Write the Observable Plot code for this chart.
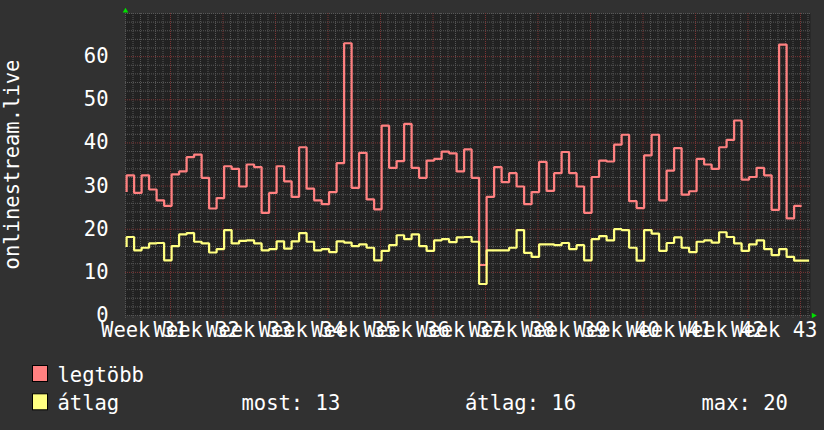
<!DOCTYPE html>
<html><head><meta charset="utf-8">
<script src="https://cdn.jsdelivr.net/npm/d3@7"></script>
<script src="https://cdn.jsdelivr.net/npm/@observablehq/plot@0.6"></script>
<style>
html,body{margin:0;padding:0;background:#313131;}
#wrap{position:relative;width:824px;height:430px;overflow:hidden;background:#313131;}
#wrap svg{display:block;}
</style></head><body><div id="wrap"></div>
<script>
const seriesNames = ["legtöbb", "átlag"];
const seriesColors = ["#ff8080", "#ffff80"];
// daily values; first entry is the value just before the plotted window
const legtobb = [28.6,
  32.5, 28.4, 32.5, 29.2, 26.7, 25.4, 32.7, 33.4, 36.7, 37.3,
  31.9, 24.8, 27.2, 34.6, 34.0, 29.9, 35.0, 34.4, 23.8, 28.4,
  34.6, 31.1, 27.5, 39.0, 29.4, 26.7, 25.8, 28.6, 35.3, 63.1,
  29.6, 37.7, 26.9, 24.6, 44.0, 34.2, 35.8, 44.4, 34.2, 31.9,
  35.9, 36.3, 38.0, 37.6, 33.4, 38.5, 31.9, 11.7, 27.5, 34.4,
  30.9, 33.0, 29.9, 25.8, 28.6, 35.6, 28.9, 33.0, 37.9, 33.0,
  29.9, 23.8, 32.1, 35.9, 35.7, 39.6, 41.9, 26.5, 24.9, 37.1,
  41.9, 26.7, 33.6, 38.8, 28.0, 28.8, 36.3, 35.0, 34.0, 39.0,
  40.7, 45.2, 31.5, 32.1, 34.2, 32.5, 24.5, 62.8, 22.5, 25.4];
const atlag = [15.9,
  18.2, 15.1, 15.7, 16.7, 16.8, 12.8, 16.1, 18.8, 19.1, 17.1,
  16.7, 14.6, 15.4, 19.8, 16.7, 17.3, 17.4, 16.7, 15.1, 15.4,
  17.2, 15.5, 17.2, 19.1, 17.1, 15.1, 15.4, 14.7, 17.2, 16.9,
  16.1, 16.5, 15.7, 12.8, 15.0, 16.3, 18.6, 17.7, 18.8, 16.1,
  15.0, 17.4, 17.7, 17.0, 18.1, 18.2, 17.1, 7.3, 15.1, 15.1,
  15.1, 15.7, 19.8, 14.5, 13.6, 16.5, 16.5, 16.3, 16.8, 15.4,
  16.3, 12.8, 17.7, 18.4, 17.4, 20.0, 19.8, 15.7, 12.7, 19.8,
  19.0, 15.0, 16.8, 18.1, 15.7, 14.7, 17.1, 17.4, 16.9, 19.3,
  18.2, 16.7, 15.0, 16.5, 17.4, 15.4, 14.0, 15.4, 13.6, 12.7, 12.7];
const weekLabels = ["Week 31","Week 32","Week 33","Week 34","Week 35","Week 36","Week 37",
  "Week 38","Week 39","Week 40","Week 41","Week 42","Week 43"];
const yTicks = [0, 10, 20, 30, 40, 50, 60];
const yAxisLabel = "onlinestream.live";
const statLabels = ["most: ", "átlag: ", "max: "];

const FONT = "DejaVu Sans Mono";
const FS = 20.5;
const DAY_OFFSET = 0.15;
const toRows = vals => vals.map((v, i) => ({x: i + DAY_OFFSET, v}));
const rowsRed = toRows(legtobb);
const rowsYel = toRows(atlag);
const weekTicks = d3.range(6, 91, 7);
const labelPos = weekTicks.map(t => t - 3.5);
const minorDays = d3.range(0, 92).filter(d => !weekTicks.includes(d));
const yMinor = d3.range(0, 71, 2).filter(d => d % 10 !== 0 || d === 0 || d === 70);
const yMajor = d3.range(10, 61, 10);
const gridGray = "#585858", gridRed = "#7c3636", green = "#00e000";

const chart = Plot.plot({
  width: 824, height: 345,
  marginLeft: 125, marginRight: 14, marginTop: 13, marginBottom: 30,
  x: {domain: [0, 685 / 7.5]},
  y: {domain: [0, 70]},
  style: {background: "transparent", color: "#ffffff", fontFamily: FONT, overflow: "visible"},
  marks: [
    Plot.frame({fill: "#222222", stroke: "none"}),
    Plot.ruleX(minorDays, {y1: -0.7, y2: 70, stroke: gridGray, strokeDasharray: "1,1"}),
    Plot.ruleY(yMinor, {stroke: gridGray, strokeDasharray: "1,1"}),
    Plot.ruleY(yMajor, {stroke: gridRed, strokeDasharray: "1,1"}),
    Plot.ruleX(weekTicks, {y1: -0.7, y2: 70, stroke: gridRed, strokeDasharray: "1,1"}),
    Plot.line(rowsRed, {x: "x", y: "v", curve: "step-before", stroke: seriesColors[0], strokeWidth: 2.2, strokeLinejoin: "miter", strokeLinecap: "butt"}),
    Plot.line(rowsYel, {x: "x", y: "v", curve: "step-before", stroke: seriesColors[1], strokeWidth: 2.2, strokeLinejoin: "miter", strokeLinecap: "butt"}),
    Plot.dot([0], {x: 0, y: 70.6, symbol: "triangle", r: 2.1, fill: green, stroke: "none"}),
    Plot.dot([0], {x: 91.73, y: 0, symbol: "triangle", r: 2.1, fill: green, stroke: "none", rotate: 90}),
    Plot.axisY({ticks: yTicks, tickSize: 0, tickPadding: 17, fontSize: FS, label: yAxisLabel, labelArrow: "none", labelAnchor: "center", labelOffset: 121}),
    Plot.axisX({ticks: labelPos, tickFormat: d => weekLabels[labelPos.indexOf(d)], tickSize: 0, tickPadding: 7, fontSize: FS, label: null})
  ]
});
const wrap = document.getElementById("wrap");
wrap.appendChild(chart);

// legend
const vals = atlag.slice(1);
const stats = [Math.round(vals[vals.length - 1]), Math.round(d3.mean(vals)), Math.round(d3.max(vals))];
const leg = d3.create("svg").attr("width", 824).attr("height", 85)
  .style("position", "absolute").style("left", "0px").style("top", "345px");
const rowsY = [36.5, 64.8];
seriesNames.forEach((name, i) => {
  leg.append("rect").attr("x", 32.5).attr("y", rowsY[i] - 16).attr("width", 15).attr("height", 16)
    .attr("fill", seriesColors[i]).attr("stroke", "#000").attr("stroke-width", 1);
  leg.append("text").attr("x", 57.5).attr("y", rowsY[i]).attr("fill", "#fff")
    .attr("font-family", FONT).attr("font-size", FS).text(name);
});
const statX = [241.5, 465, 701.5];
statLabels.forEach((s, i) => {
  leg.append("text").attr("x", statX[i]).attr("y", rowsY[1]).attr("fill", "#fff")
    .attr("font-family", FONT).attr("font-size", FS).text(s + stats[i]);
});
wrap.appendChild(leg.node());
</script></body></html>
